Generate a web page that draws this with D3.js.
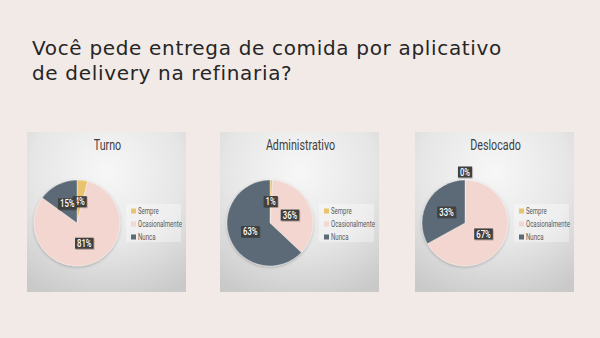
<!DOCTYPE html>
<html>
<head>
<meta charset="utf-8">
<script src="https://cdn.jsdelivr.net/npm/d3@7"></script>
<style>
  html, body { margin: 0; padding: 0; background: #f2eae7; }
  svg { display: block; }
  .narrow { font-family: "Roboto", "Liberation Sans", sans-serif; }
</style>
</head>
<body>
<svg id="chart" width="600" height="338"></svg>
<script>
// Survey question and answer categories
const title = ["Você pede entrega de comida por aplicativo", "de delivery na refinaria?"];
const categories = ["Sempre", "Ocasionalmente", "Nunca"];
const colors = ["#e9c46e", "#f2d6cf", "#5b6b77"];

// One pie per work regime (percent of answers)
const groups = ["Turno", "Administrativo", "Deslocado"];
const turno = [4, 81, 15];
const administrativo = [1, 36, 63];
const deslocado = [0, 67, 33];
const values = [turno, administrativo, deslocado];

const svg = d3.select("#chart");
const defs = svg.append("defs");

// Panel background: soft light-to-grey radial wash
const grad = defs.append("radialGradient")
  .attr("id", "panelBg").attr("cx", "50%").attr("cy", "25%").attr("r", "85%");
grad.append("stop").attr("offset", "0%").attr("stop-color", "#f7f7f7");
grad.append("stop").attr("offset", "55%").attr("stop-color", "#e6e6e6");
grad.append("stop").attr("offset", "100%").attr("stop-color", "#c9c9c9");

const shadow = defs.append("filter").attr("id", "pieShadow")
  .attr("x", "-20%").attr("y", "-20%").attr("width", "140%").attr("height", "140%");
shadow.append("feDropShadow").attr("dx", 0).attr("dy", 1).attr("stdDeviation", 1.6)
  .attr("flood-color", "#000").attr("flood-opacity", 0.25);

const lblShadow = defs.append("filter").attr("id", "lblShadow")
  .attr("x", "-30%").attr("y", "-30%").attr("width", "160%").attr("height", "160%");
lblShadow.append("feDropShadow").attr("dx", 0.6).attr("dy", 0.8).attr("stdDeviation", 0.6)
  .attr("flood-color", "#000").attr("flood-opacity", 0.35);

// Condensed text: regular face squeezed horizontally
const SQ = 0.74;
function narrowText(parent, x, y, str, size, fill, anchor, weight) {
  const g = parent.append("g").attr("transform", `translate(${x},${y}) scale(${SQ},1)`);
  const t = g.append("text").attr("class", "narrow")
    .attr("text-anchor", anchor || "start")
    .attr("fill", fill)
    .style("font-size", size + "px")
    .style("font-weight", weight || 400)
    .text(str);
  return t;
}

// Slide title, fitted to the width of the title block
const tLines = svg.append("g").selectAll("text").data(title).join("text")
  .attr("x", 32).attr("y", (d, i) => 55 + i * 24.5)
  .attr("fill", "#262626")
  .style("font-family", "'DejaVu Sans', sans-serif")
  .style("font-size", "20px")
  .text(d => d);
const w0 = tLines.nodes()[0].getComputedTextLength();
const n0 = title[0].length;
tLines.style("letter-spacing", ((470 - w0) / n0) + "px");

// Panel layout
const panelX = [27, 220, 415];
const panelY = 132, panelW = 159, panelH = 160;
const pieDX = 50, pieDY = 91, radius = 43;

const pie = d3.pie().sort(null).value(d => d);
const arc = d3.arc().innerRadius(0).outerRadius(radius);

groups.forEach((name, gi) => {
  const g = svg.append("g").attr("transform", `translate(${panelX[gi]},${panelY})`);

  g.append("rect").attr("width", panelW).attr("height", panelH)
    .attr("fill", "url(#panelBg)");

  narrowText(g, panelW / 2 + 1, 18, name, 14.5, "#404040", "middle");

  const arcs = pie(values[gi]);
  const pg = g.append("g").attr("transform", `translate(${pieDX},${pieDY})`);

  pg.append("g").attr("filter", "url(#pieShadow)")
    .selectAll("path").data(arcs).join("path")
    .attr("d", arc)
    .attr("fill", (d, i) => colors[i])
    .attr("stroke", "#ffffff").attr("stroke-width", 0.6).attr("stroke-opacity", 0.6);

  // Data labels: dark tags at the slice centroid; empty slices sit just outside the rim
  arcs.forEach((d, i) => {
    let [lx, ly] = arc.centroid(d);
    if (d.data === 0) {
      const a = d.startAngle;
      lx = Math.sin(a) * (radius + 8);
      ly = -Math.cos(a) * (radius + 8);
    }
    const lg = pg.append("g").attr("transform", `translate(${lx},${ly})`);
    const t = narrowText(lg, 0, 3.6, d.data + "%", 10.5, "#ffffff", "middle", 500);
    const bw = t.node().getComputedTextLength() * SQ + 4;
    lg.insert("rect", "g")
      .attr("x", -bw / 2).attr("y", -5.5).attr("width", bw).attr("height", 11)
      .attr("fill", "#404040").attr("filter", "url(#lblShadow)");
  });

  // Legend
  const lgX = panelW - 60, lgY = 72;
  const leg = g.append("g").attr("transform", `translate(${lgX},${lgY})`);
  leg.append("rect").attr("width", 55).attr("height", 38)
    .attr("fill", "#ffffff").attr("fill-opacity", 0.35);
  categories.forEach((c, i) => {
    const row = leg.append("g").attr("transform", `translate(5,${7 + i * 13})`);
    row.append("rect").attr("x", 0).attr("y", -2.5).attr("width", 5).attr("height", 5)
      .attr("fill", colors[i]);
    narrowText(row, 7, 2.8, c, 8.2, "#595959", "start");
  });
});
</script>
</body>
</html>
